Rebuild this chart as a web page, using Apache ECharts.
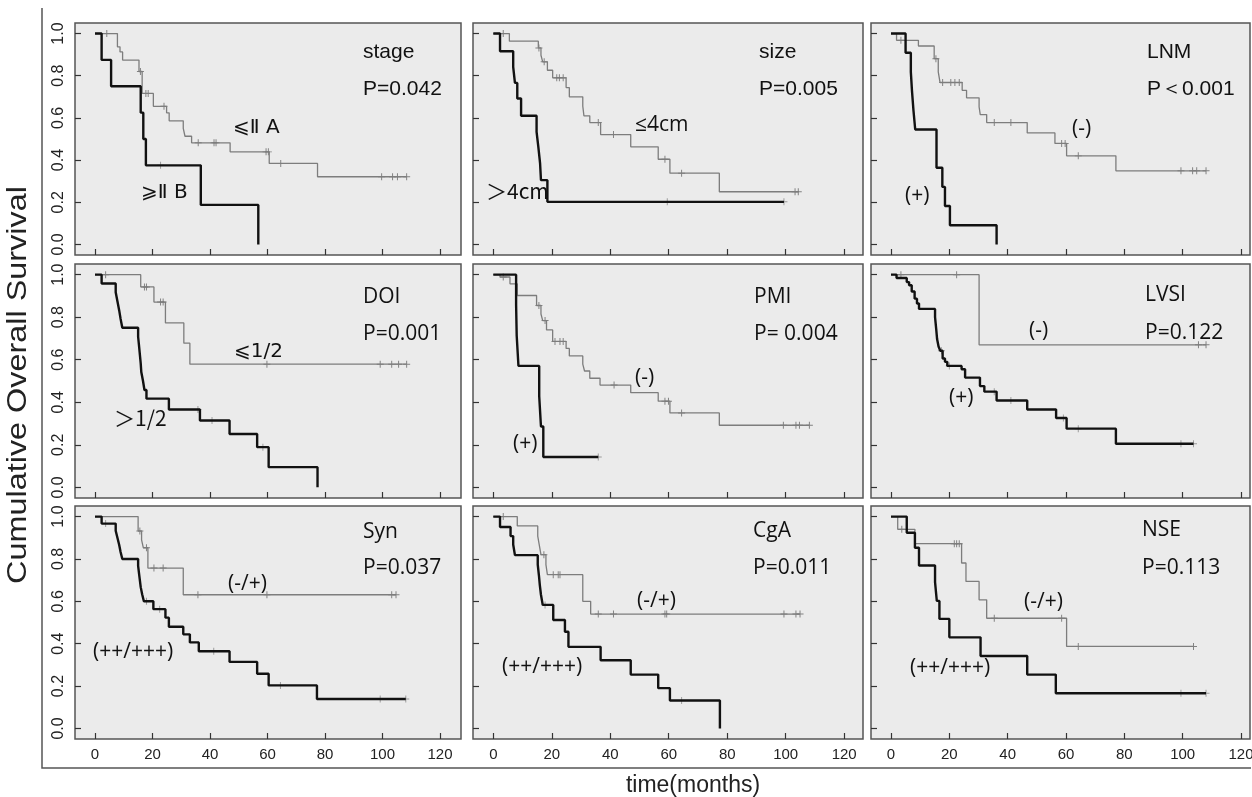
<!DOCTYPE html>
<html>
<head>
<meta charset="utf-8">
<script src="https://cdn.jsdelivr.net/npm/echarts@6/dist/echarts.min.js"></script>
<style>
  html, body { margin: 0; padding: 0; background: #fff; }
  #main { width: 1252px; height: 797px; }
</style>
</head>
<body>
<div id="main"></div>
<script>
// Kaplan-Meier steps: *_t = event times (months), *_s = survival after that time,
// *_c = censored times. "A" is the grey (favourable) group, "B" the black one.
const stageA_t = [0, 7.8, 8.7, 9.6, 15.3, 16.4, 20.3, 24.9, 25.8, 30.7, 31.3, 33.6, 47, 60.6, 77.4];
const stageA_s = [1, .937, .913, .874, .82, .716, .655, .624, .586, .55, .513, .482, .439, .384, .321];
const stageA_c = [4.1, 15.8, 17.7, 18.5, 24, 35.9, 41.4, 42.1, 59.5, 60.3, 64.6, 99.7, 103.5, 105.2, 108.4];
const stageB_t = [0, 2.3, 5.6, 15.9, 16.8, 17.7, 36.8, 56.8];
const stageB_s = [1, .875, .75, .625, .5, .375, .1875, 0];
const stageB_c = [22.8];

const sizeA_t = [0, 5.5, 15.4, 16.3, 16.9, 18.5, 20.3, 24.9, 26, 30.6, 31, 33, 36.7, 47, 56.4, 60.4, 77.3];
const sizeA_s = [1, .964, .932, .897, .866, .826, .79, .744, .7, .656, .61, .578, .521, .463, .404, .338, .25];
const sizeA_c = [3.4, 15.6, 17.4, 21.7, 22.6, 23.9, 35.9, 41.1, 58.7, 64.4, 103.2, 104.3];
const sizeB_t = [0, 2.3, 6.8, 7.4, 8.2, 9.5, 14.8, 15.4, 16, 16.3, 18.5];
const sizeB_s = [1, .916, .842, .766, .692, .61, .534, .463, .384, .305, .202];
const sizeB_c = [59.5, 99.4];

const lnmA_t = [0, 1.9, 9.4, 14.8, 16.2, 16.8, 24.4, 25.9, 30.2, 30.6, 32.8, 46.7, 56.2, 60.2, 77.1];
const lnmA_s = [1, .968, .941, .881, .818, .768, .731, .695, .652, .616, .578, .529, .479, .42, .349];
const lnmA_c = [3.4, 15.4, 17.7, 20.5, 21.9, 23.4, 35.4, 41.1, 58.5, 59.7, 64.2, 99.4, 103.4, 104.8, 108];
const lnmB_t = [0, 5.0, 6.8, 7.2, 7.7, 8.3, 15.6, 17.6, 18.5, 20.2, 36.2];
const lnmB_s = [1, .909, .818, .727, .636, .545, .364, .273, .182, .091, 0];
const lnmB_c = [];

const doiA_t = [0, 15.9, 20.5, 24.5, 30.9, 33];
const doiA_s = [1, .942, .871, .773, .678, .579];
const doiA_c = [3.7, 17.2, 17.9, 22.8, 23.7, 59.8, 99.2, 103.2, 105.6, 108.4];
const doiB_t = [0, 2.3, 7.2, 7.8, 8.4, 8.9, 9.5, 15, 15.3, 15.6, 15.9, 16.1, 16.7, 17.2, 17.9, 25.7, 36.5, 46.8, 56.4, 60.4, 77.4];
const doiB_s = [1, .958, .917, .875, .833, .792, .75, .708, .667, .625, .583, .542, .5, .458, .417, .366, .314, .251, .189, .095, 0];
const doiB_c = [35.8, 40.7, 58.4];

const pmiA_t = [0, 2.3, 5.7, 8.2, 14.8, 16.3, 16.9, 18.2, 20.3, 24.9, 26, 30.6, 31.2, 33, 36.5, 47, 56.4, 60.4, 77.3];
const pmiA_s = [1, .989, .957, .902, .855, .815, .784, .74, .686, .653, .618, .579, .547, .513, .481, .445, .405, .35, .292];
const pmiA_c = [3.4, 15.6, 17.7, 21.1, 22.8, 23.9, 41.3, 58.7, 59.9, 64.4, 99.2, 103.5, 104.7, 108.1];
const pmiB_t = [0, 7.8, 8.0, 8.6, 15.7, 16.3, 17.1];
const pmiB_s = [1, .857, .714, .571, .429, .286, .143];
const pmiB_c = [35.9];

const lvsiA_t = [0, 30.2];
const lvsiA_s = [1, .67];
const lvsiA_c = [3.4, 22.5, 105.4, 108];
const lvsiB_t = [0, 1.9, 5.4, 6.2, 7.1, 8.1, 8.9, 9.6, 15.1, 15.5, 15.8, 16.3, 16.9, 17.7, 18.5, 19.3, 24.2, 25.4, 30.5, 32, 36.2, 46.7, 56.6, 60.2, 77.1];
const lvsiB_s = [1, .984, .965, .95, .921, .887, .864, .839, .8, .744, .697, .662, .642, .606, .59, .571, .555, .516, .476, .45, .408, .366, .326, .276, .205];
const lvsiB_c = [17.3, 20, 35.4, 41.1, 59.1, 64.2, 99.4, 103.7];

const synA_t = [0, 15, 16.2, 16.8, 18.4, 30.7];
const synA_s = [1, .932, .89, .853, .757, .631];
const synA_c = [15.6, 17.9, 20.5, 23.7, 35.8, 59.8, 103.2, 104.7];
const synB_t = [0, 2.3, 7.2, 7.8, 8.4, 8.9, 9.5, 15, 15.3, 15.6, 15.9, 16.4, 17, 20.3, 24.5, 25.7, 30.7, 33, 36.1, 46.8, 56.4, 60.4, 77.2];
const synB_s = [1, .967, .933, .9, .867, .833, .8, .767, .733, .7, .667, .633, .6, .563, .523, .48, .444, .406, .364, .314, .258, .203, .139];
const synB_c = [3.7, 17.9, 22.5, 41.3, 64.5, 99.2, 108.1];

const cgaA_t = [0, 8.2, 15.2, 15.7, 16.3, 18, 18.5, 30.6, 33.3];
const cgaA_s = [1, .956, .908, .868, .82, .773, .726, .6, .54];
const cgaA_c = [3.4, 17.3, 20.5, 22.2, 22.8, 35.9, 41.1, 58.7, 59.3, 99.4, 103.5, 104.9];
const cgaB_t = [0, 2.3, 5.9, 6.8, 7.4, 15.2, 15.6, 15.9, 16.3, 16.9, 20.5, 24.5, 25.7, 36.7, 47, 56.4, 60.4, 77.5];
const cgaB_s = [1, .951, .908, .868, .818, .773, .723, .678, .631, .583, .512, .456, .385, .322, .254, .19, .132, 0];
const cgaB_c = [17.7, 64.4];

const nseA_t = [0, 2.3, 8.2, 24.2, 25.7, 30.2, 32.8, 60.2];
const nseA_s = [1, .94, .872, .781, .694, .607, .52, .387];
const nseA_c = [3.7, 21.7, 22.5, 23.4, 35.4, 58.5, 64.2, 103.7];
const nseB_t = [0, 5.4, 8.2, 9.6, 15.1, 15.7, 16.6, 20, 30.7, 46.7, 56.5];
const nseB_s = [1, .924, .853, .769, .691, .602, .517, .43, .342, .254, .166];
const nseB_c = [99.4, 108];

const titles = ['stage', 'size', 'LNM', 'DOI', 'PMI', 'LVSI', 'Syn', 'CgA', 'NSE'];
const pValues = ['P=0.042', 'P=0.005', 'P\uFF1C0.001', 'P=0.001', 'P= 0.004', 'P=0.122', 'P=0.037', 'P=0.011', 'P=0.113'];
const groupA = ['\u2A7D\u2161 A', '\u22644cm', '(-)', '\u2A7D1/2', '(-)', '(-)', '(-/+)', '(-/+)', '(-/+)'];
const groupB = ['\u2A7E\u2161 B', '\uFF1E4cm', '(+)', '\uFF1E1/2', '(+)', '(+)', '(++/+++)', '(++/+++)', '(++/+++)'];
const xTicks = [0, 20, 40, 60, 80, 100, 120];
const yTicks = [0, 0.2, 0.4, 0.6, 0.8, 1.0];

const curves = [
  [stageA_t, stageA_s, stageA_c, stageB_t, stageB_s, stageB_c],
  [sizeA_t, sizeA_s, sizeA_c, sizeB_t, sizeB_s, sizeB_c],
  [lnmA_t, lnmA_s, lnmA_c, lnmB_t, lnmB_s, lnmB_c],
  [doiA_t, doiA_s, doiA_c, doiB_t, doiB_s, doiB_c],
  [pmiA_t, pmiA_s, pmiA_c, pmiB_t, pmiB_s, pmiB_c],
  [lvsiA_t, lvsiA_s, lvsiA_c, lvsiB_t, lvsiB_s, lvsiB_c],
  [synA_t, synA_s, synA_c, synB_t, synB_s, synB_c],
  [cgaA_t, cgaA_s, cgaA_c, cgaB_t, cgaB_s, cgaB_c],
  [nseA_t, nseA_s, nseA_c, nseB_t, nseB_s, nseB_c]
];

// layout (pixels)
const colBox = [[75, 461], [473, 863], [871, 1250]];
const colZero = [95, 493.3, 891];       // pixel of t = 0
const colScale = [2.875, 2.924, 2.917]; // pixels per month
const rowBox = [[23, 255], [264, 498], [506, 739]];
const titlePos = [[363, 52, 89], [759, 52, 89], [1147, 52, 89], [363, 297, 334], [754, 297, 334], [1145, 295, 333], [363, 532, 568], [753, 531, 568], [1142, 530, 568]];
const labelAPos = [[233, 128], [635, 125], [1072, 129], [234, 352], [635, 378], [1029, 331], [228, 584], [637, 601], [1024, 602]];
const labelBPos = [[141, 193], [486, 191], [905, 196], [114, 418], [513, 444], [949, 398], [93, 652], [502, 667], [910, 668]];

const GREY = '#7d7d7d', BLACK = '#111';
const plus = 'path://M0,4.3H10V5.7H0Z M4.3,0H5.7V10H4.3Z';
const GROUP_FONT = '21px "Open Sans", "DejaVu Sans"';
const STAGE_FONT = '20px "DejaVu Sans"';
const WIDE_FONT = '21px "Noto Sans CJK SC"';

function stepAt(t, s, x) {
  let v = s[0];
  for (let i = 0; i < t.length; i++) if (t[i] <= x) v = s[i];
  return v;
}
function stepLine(t, s, c) {
  const pts = t.map((x, i) => [x, s[i]]);
  const last = c.length ? Math.max(...c) : 0;
  if (last > t[t.length - 1]) pts.push([last, s[s.length - 1]]);
  return pts;
}
function censorPts(t, s, c) {
  return c.map(x => [x, stepAt(t, s, x)]);
}

const grids = [], xAxes = [], yAxes = [], series = [], graphics = [];
for (let i = 0; i < 9; i++) {
  const r = Math.floor(i / 3), k = i % 3;
  const [l, rt] = colBox[k], [tp, bt] = rowBox[r];
  grids.push({
    left: l, top: tp, width: rt - l, height: bt - tp,
    show: true, backgroundColor: '#ebebeb', borderColor: '#555', borderWidth: 1.5,
    outerBoundsMode: 'none'
  });
  xAxes.push({
    type: 'value', gridIndex: i, position: 'bottom',
    min: (l - colZero[k]) / colScale[k], max: (rt - colZero[k]) / colScale[k],
    axisLine: { show: false, onZero: false }, splitLine: { show: false },
    axisTick: { show: true, inside: true, length: 6, customValues: xTicks, lineStyle: { color: '#333', width: 1.2 } },
    axisLabel: { show: r === 2, customValues: xTicks, margin: 8, color: '#222', fontSize: 15, fontFamily: 'Liberation Sans' }
  });
  yAxes.push({
    type: 'value', gridIndex: i, min: -0.05, max: 1.05, position: 'left',
    axisLine: { show: false, onZero: false }, splitLine: { show: false },
    axisTick: { show: true, inside: true, length: 6, customValues: yTicks, lineStyle: { color: '#333', width: 1.2 } },
    axisLabel: { show: k === 0, customValues: yTicks, rotate: 90, margin: 8, color: '#222', fontSize: 16, fontFamily: 'Liberation Sans', formatter: v => v.toFixed(1) }
  });
  const [aT, aS, aC, bT, bS, bC] = curves[i];
  series.push(
    { type: 'line', xAxisIndex: i, yAxisIndex: i, step: 'end', showSymbol: false, silent: true,
      data: stepLine(aT, aS, aC), lineStyle: { color: GREY, width: 1.3 } },
    { type: 'line', xAxisIndex: i, yAxisIndex: i, step: 'end', showSymbol: false, silent: true,
      data: stepLine(bT, bS, bC), lineStyle: { color: BLACK, width: 2.4 } },
    { type: 'scatter', xAxisIndex: i, yAxisIndex: i, symbol: plus, symbolSize: 7, silent: true,
      data: censorPts(aT, aS, aC), itemStyle: { color: '#666' } },
    { type: 'scatter', xAxisIndex: i, yAxisIndex: i, symbol: plus, symbolSize: 7, silent: true,
      data: censorPts(bT, bS, bC), itemStyle: { color: '#888' } }
  );
  const fam = r === 0 ? '"Liberation Sans", Arial' : '"Open Sans", "Noto Sans"';
  const aFont = (i === 0 || i === 3) ? STAGE_FONT : GROUP_FONT;
  const bFont = (i === 0) ? STAGE_FONT : (i === 1 || i === 3) ? WIDE_FONT : GROUP_FONT;
  const tp0 = titlePos[i];
  graphics.push(
    { type: 'text', x: tp0[0], y: tp0[1], z: 100, style: { text: titles[i], fill: '#111', font: '21px ' + fam, textVerticalAlign: 'middle' } },
    { type: 'text', x: tp0[0], y: tp0[2], z: 100, style: { text: pValues[i], fill: '#111', font: '21px ' + fam, textVerticalAlign: 'middle' } },
    { type: 'text', x: labelAPos[i][0], y: labelAPos[i][1], z: 100, style: { text: groupA[i], fill: '#111', font: aFont, textVerticalAlign: 'middle' } },
    { type: 'text', x: labelBPos[i][0], y: labelBPos[i][1], z: 100, style: { text: groupB[i], fill: '#111', font: bFont, textVerticalAlign: 'middle' } }
  );
}

graphics.push(
  { type: 'polyline', shape: { points: [[42, 8], [42, 768], [1251, 768]] }, style: { stroke: '#555', lineWidth: 1.5, fill: null } },
  { type: 'text', x: 19, y: 385, rotation: Math.PI / 2, scaleX: 1.2, style: { text: 'Cumulative Overall Survival', fill: '#222', font: '27px "Liberation Sans", Arial', textAlign: 'center', textVerticalAlign: 'middle' } },
  { type: 'text', x: 693, y: 786, style: { text: 'time(months)', fill: '#222', font: '23px "Liberation Sans", Arial', textAlign: 'center', textVerticalAlign: 'middle' } }
);

const myChart = echarts.init(document.getElementById('main'));
myChart.setOption({
  animation: false,
  backgroundColor: '#fff',
  grid: grids,
  xAxis: xAxes,
  yAxis: yAxes,
  series: series,
  graphic: graphics
});
</script>
</body>
</html>
